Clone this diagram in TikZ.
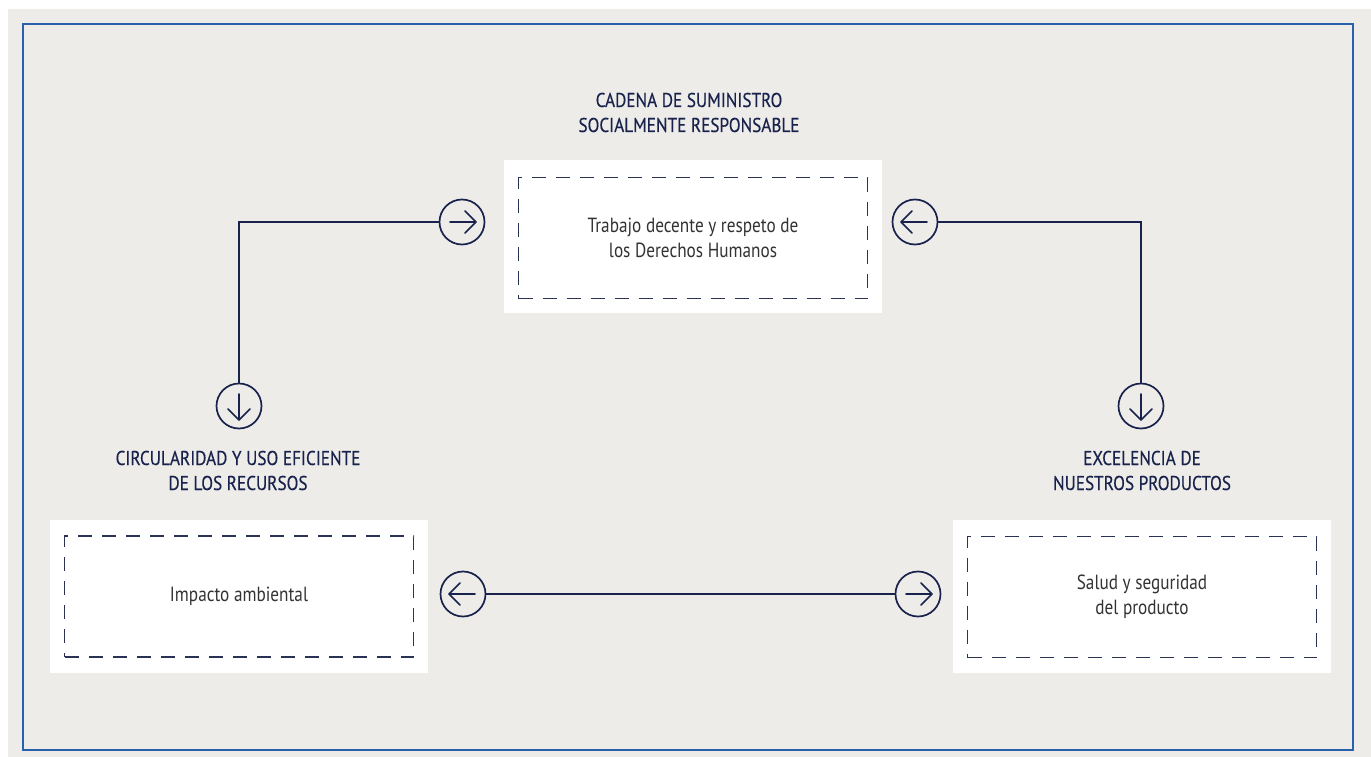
\documentclass[tikz,border=0pt]{standalone}
\usepackage{fontspec}
\setmainfont{PT Sans}[FakeStretch=0.84]
\newfontfamily\titlefont{PT Sans}[FakeStretch=0.86, FakeBold=0.35]
\usetikzlibrary{calc}
\definecolor{bg}{HTML}{EDECE8}
\definecolor{frame}{HTML}{2A61AA}
\definecolor{navy}{HTML}{18224C}
\definecolor{boxtxt}{HTML}{333333}
\definecolor{dashc}{HTML}{2A3355}
\tikzset{
  x=1pt, y=-1pt,
  whitebox/.style={fill=white, draw=none, minimum width=378pt, minimum height=153pt, inner sep=0pt},
  dashbox/.style={draw=dashc, line width=1.4pt, dash pattern=on 14pt off 10pt, fill=none, minimum width=349pt, minimum height=121pt, inner sep=0pt, align=center, text=boxtxt, font=\fontsize{20.5}{25}\selectfont},
  title/.style={align=center, text=navy, font=\titlefont\fontsize{20}{25}\selectfont, inner sep=0pt},
  ring/.style={circle, draw=navy, line width=1.7pt, minimum size=45pt, inner sep=0pt},
  conn/.style={draw=navy, line width=1.5pt},
  glyph/.style={draw=navy, line width=1.7pt, line cap=round, line join=round},
}
\begin{document}
\begin{tikzpicture}
\useasboundingbox (0,0) rectangle (1371,757);
\fill[white] (0,0) rectangle (1371,757);
\fill[bg] (8,9) rectangle (1371,757);
\draw[frame, line width=2pt] (23,24) rectangle (1353,750);

% boxes
\node[whitebox] (wtop) at (693,236.5) {};
\node[dashbox] (btop) at (693,238) {Trabajo decente y respeto de\\los Derechos Humanos};
\node[whitebox] (wleft) at (239,596.5) {};
\node[dashbox] (bleft) at (239,596.5) {Impacto ambiental};
\node[whitebox] (wright) at (1142,596.5) {};
\node[dashbox] (bright) at (1142,597) {Salud y seguridad\\del producto};

% titles
\node[title, anchor=base] (ttop) at (689,132) {CADENA DE SUMINISTRO\\SOCIALMENTE RESPONSABLE};
\node[title, anchor=base] (tleft) at (238,490) {CIRCULARIDAD Y USO EFICIENTE\\DE LOS RECURSOS};
\node[title, anchor=base] (tright) at (1142,490) {EXCELENCIA DE\\NUESTROS PRODUCTOS};

% rings
\node[ring] (r1) at (462,222) {};
\node[ring] (r2) at (915,222) {};
\node[ring] (r3) at (239,406) {};
\node[ring] (r4) at (1141,406) {};
\node[ring] (r5) at (463,594) {};
\node[ring] (r6) at (918,594) {};

% arrow glyphs
\draw[glyph] ($(r1)+(-12,0)$) -- ($(r1)+(14,0)$) ($(r1)+(3,-11)$) -- ($(r1)+(14,0)$) -- ($(r1)+(3,11)$);
\draw[glyph] ($(r6)+(-12,0)$) -- ($(r6)+(14,0)$) ($(r6)+(3,-11)$) -- ($(r6)+(14,0)$) -- ($(r6)+(3,11)$);
\draw[glyph] ($(r2)+(12,0)$) -- ($(r2)+(-14,0)$) ($(r2)+(-3,-11)$) -- ($(r2)+(-14,0)$) -- ($(r2)+(-3,11)$);
\draw[glyph] ($(r5)+(12,0)$) -- ($(r5)+(-14,0)$) ($(r5)+(-3,-11)$) -- ($(r5)+(-14,0)$) -- ($(r5)+(-3,11)$);
\draw[glyph] ($(r3)+(0,-12)$) -- ($(r3)+(0,14)$) ($(r3)+(-11,3)$) -- ($(r3)+(0,14)$) -- ($(r3)+(11,3)$);
\draw[glyph] ($(r4)+(0,-12)$) -- ($(r4)+(0,14)$) ($(r4)+(-11,3)$) -- ($(r4)+(0,14)$) -- ($(r4)+(11,3)$);

% connectors
\draw[conn] (r1.west) -| (r3.north);
\draw[conn] (r2.east) -| (r4.north);
\draw[conn] (r5.east) -- (r6.west);
\end{tikzpicture}
\end{document}
